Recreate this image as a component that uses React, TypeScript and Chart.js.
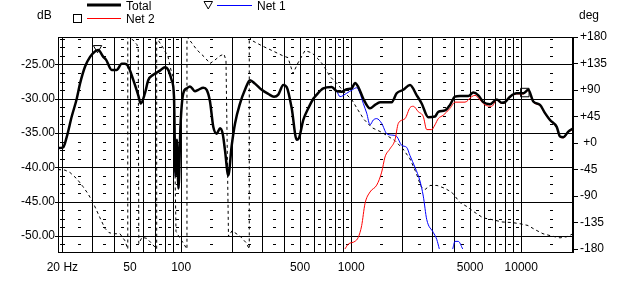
import React, { useEffect, useRef } from 'react';
import { Chart, registerables } from 'chart.js';

Chart.register(...registerables);

const FONT = "'Liberation Sans', Arial, Helvetica, sans-serif";

// ---------- data ----------
const totalFreq = [18.9, 20.2, 21.2, 22.7, 24.3, 25.4, 27.2, 29.1, 31.1, 32.5, 34.8, 36.1, 39.0, 41.7, 44.7, 46.7, 48.8, 52.3, 55.9, 57.8, 61.2, 64.0, 68.5, 75.0, 80.3, 83.9, 87.9, 90.7, 92.5, 94.4, 96.4, 99.0, 102.9, 107.7, 112.6, 120.5, 126.0, 134.9, 141.2, 147.7, 154.4, 161.7, 169.1, 175.4, 180.9, 189.2, 198.2, 207.3, 221.7, 237.2, 253.8, 271.6, 297.5, 325.2, 351.4, 372.4, 398.6, 417.4, 446.6, 477.9, 495.0, 522.6, 559.2, 598.4, 612.3, 685.0, 767.6, 821.4, 878.9, 940.5, 1006, 1052, 1101, 1178, 1290, 1380, 1477, 1730, 1851, 2025, 2217, 2428, 2597, 2841, 3110, 3252, 3562, 3811, 4078, 4364, 4884, 5226, 5591, 5984, 6552, 7175, 7677, 8027, 8589, 9403, 10285, 11006, 11777, 12896, 13800, 14767, 16169, 16909, 17681, 18920, 20246];
const totalDb = [-37.2, -37.1, -35.6, -32.6, -30.0, -27.8, -25.3, -23.9, -23.1, -22.9, -23.9, -24.3, -25.8, -25.8, -24.9, -24.9, -25.3, -27.3, -29.5, -30.7, -29.2, -27.3, -26.5, -25.9, -25.4, -25.8, -27.3, -29.7, -41.3, -36.0, -43.1, -34.0, -29.2, -28.5, -28.2, -28.9, -28.7, -28.4, -28.7, -30.4, -34.1, -35.1, -34.3, -35.1, -37.5, -41.2, -36.8, -33.6, -30.7, -28.7, -27.3, -27.8, -28.7, -29.3, -29.7, -29.4, -28.0, -28.3, -31.4, -36.0, -35.6, -33.1, -31.4, -30.0, -29.7, -28.5, -28.3, -28.9, -29.0, -28.6, -28.5, -27.7, -28.3, -30.0, -31.4, -30.9, -30.5, -30.5, -29.2, -28.7, -28.0, -29.5, -30.7, -32.7, -32.6, -31.9, -31.7, -30.9, -29.7, -29.6, -29.6, -29.1, -29.5, -30.5, -30.8, -30.1, -30.6, -30.5, -29.7, -29.2, -29.2, -28.7, -30.4, -30.9, -32.1, -33.1, -34.1, -35.5, -35.6, -34.8, -34.3];

// Net 1 coincides with Total below ~820 Hz (hidden under it), then:
const net1SharedCount = 68;
const net1Freq = [859, 940.5, 1015, 1077, 1126, 1178, 1233, 1290, 1349, 1412, 1511, 1617, 1730, 1851, 1981, 2120, 2217, 2372, 2538, 2654, 2780, 3040, 3183, 3297, 3600, 3954, 4078, 4264, 4526];
const net1Db = [-29.7, -29.2, -28.7, -28.4, -29.2, -30.7, -32.1, -33.8, -33.1, -32.9, -33.6, -35.1, -35.3, -35.5, -36.8, -37.1, -38.3, -40.0, -42.0, -44.2, -47.6, -49.5, -50.5, -51.9, null, -51.9, -50.8, -50.8, -51.9];

const net2Freq = [919, 961, 1052, 1101, 1152, 1205, 1290, 1412, 1511, 1580, 1691, 1809, 1892, 2072, 2217, 2318, 2480, 2654, 2780, 2975, 3110, 3252, 3481, 3811, 4078, 4670, 5114, 5348, 5722, 6123, 6705, 7175, 7677, 8027, 8589, 9403, 10285, 11006, 11777, 12896, 13800, 14767, 16169, 16909, 17681, 18920, 20246];
const net2Db = [-51.9, -51.2, -50.8, -50.2, -48.5, -45.3, -43.6, -42.6, -40.7, -38.5, -37.3, -36.0, -33.6, -32.9, -31.3, -31.1, -31.9, -32.6, -34.5, -34.5, -33.8, -32.9, -32.4, -31.4, -30.5, -30.5, -29.7, -29.5, -30.2, -30.9, -31.1, -30.2, -30.7, -30.6, -29.8, -29.3, -29.3, -28.8, -30.5, -31.0, -32.2, -33.2, -34.2, -35.6, -35.7, -34.9, -34.4];

// Total phase (wrapped, degrees)
const phaseFreq = [18.85, 20.72, 22.17, 24.38, 26.44, 28.29, 30.28, 33.29, 35.62, 37.59, 39.69, 43.63, 46.7, 48.5, 48.5, 52.04, 54.95, 55.91, 56.3, 58.79, 62.9, 67.31, 71.74, 71.74, 73.02, 78.13, 83.59, 87.05, 90.07, 93.19, 97.03, 102.4, 108.1, 108.1, 112.6, 123.8, 138.0, 147.7, 158.0, 169.1, 178.5, 183.4, 189.7, 198.9, 221.7, 240.5, 251.4, 251.4, 260.8, 298.7, 342.0, 396.9, 424.8, 454.5, 486.3, 534.7, 587.9, 637.6, 682.3, 750.1, 835.9, 919.1, 1011, 1096, 1189, 1325, 1517, 1809, 2016, 2217, 2405, 2573, 2717, 2907, 3196, 3562, 3916, 4364, 4798, 5348, 5960, 6731, 7708, 8826, 9835, 10961, 12051, 13431, 15172, 16909, 18590, 20162];
const phaseDeg = [-45, -46, -50, -61, -74, -86, -101, -127, -145, -152, -154, -154, -166, -180, 180, 175, 167, 158, -171, -160, -162, -171, -180, 180, 175, 162, 147, 124, 110, -150, -159, -169, -180, 180, 174, 158, 145, 135, 141, 148, 151, 140, -159, -149, -158, -169, -180, 180, 174, 165, 157, 148, 145, 118, 136, 157, 153, 143, 133, 113, 99, 85, 73, 56, 40, 26, 18, 4, -10, -27, -50, -74, -79, -72, -72, -77, -84, -101, -108, -118, -127, -130, -134, -135, -137, -140, -147, -154, -158, -161, -159, -154];

const markerNet1 = { freq: 32.2, db: -22.6 };
const markerNet2 = { freq: 10500, db: -29.1 };

// ---------- axes ----------
const xMin = 18.85;
const xMax = 20160;
const dbMin = -52.35;
const dbMax = -21.0;
const degMin = -185;
const degMax = 180;

const xTickValues = [20, 50, 100, 500, 1000, 5000, 10000];
const xTickLabels = ['20 Hz', '50', '100', '500', '1000', '5000', '10000'];
const dbTickValues = [-50, -45, -40, -35, -30, -25];
const dbTickLabels = ['-50.00', '-45.00', '-40.00', '-35.00', '-30.00', '-25.00'];
const degTickValues = [-180, -135, -90, -45, 0, 45, 90, 135, 180];
const degTickLabels = ['-180', '-135', '-90', '-45', ' +0', '+45', '+90', '+135', '+180'];

const decades = [10, 100, 1000, 10000];
const majorMultipliers = [2, 3, 4, 5, 6, 7, 8, 9];
const minorMultipliers = [1.5, 2.5, 3.5, 4.5, 5.5, 6.5, 7.5, 8.5, 9.5];
const dbMinorStep = 1.25;

const pts = (fs: number[], vs: (number | null)[]) => fs.map((f, i) => ({ x: f, y: vs[i] }));

const gridPlugin = {
  id: 'grid',
  beforeDatasetsDraw(chart: any) {
    const { ctx, chartArea: a, scales } = chart;
    const xs = scales.x;
    const ys = scales.y;
    const L = Math.round(a.left), R = Math.round(a.right), T = Math.round(a.top), B = Math.round(a.bottom);
    ctx.save();
    ctx.strokeStyle = '#000';
    ctx.fillStyle = '#000';
    ctx.lineWidth = 1;
    ctx.beginPath();
    // major horizontal lines
    dbTickValues.forEach((v) => {
      const py = Math.round(ys.getPixelForValue(v)) + 0.5;
      ctx.moveTo(L - 3, py);
      ctx.lineTo(R, py);
    });
    // major vertical lines
    const majors: number[] = [];
    decades.forEach((d) => majorMultipliers.forEach((m) => majors.push(d * m)));
    majors.push(100, 1000, 10000);
    majors.forEach((f) => {
      if (f < xMin || f > xMax) return;
      const px = Math.round(xs.getPixelForValue(f)) + 0.5;
      ctx.moveTo(px, T);
      ctx.lineTo(px, B);
    });
    ctx.stroke();
    // minor rows
    const rows: number[] = [];
    for (let k = Math.ceil(dbMin / dbMinorStep); k * dbMinorStep <= dbMax; k++) {
      const v = k * dbMinorStep;
      if (Math.abs(v / 5 - Math.round(v / 5)) > 1e-6) rows.push(v);
    }
    const minors: number[] = [];
    decades.forEach((d) => minorMultipliers.forEach((m) => minors.push(d * m)));
    minors.forEach((f) => {
      if (f < xMin || f > xMax) return;
      const px = Math.round(xs.getPixelForValue(f));
      rows.forEach((v) => {
        const py = Math.round(ys.getPixelForValue(v));
        if (py <= T || py >= B) return;
        ctx.fillRect(px - 1, py, 3, 1);
      });
    });
    // ticks along 20 Hz line
    const p20 = Math.round(xs.getPixelForValue(20));
    rows.forEach((v) => {
      const py = Math.round(ys.getPixelForValue(v));
      if (py <= T || py >= B) return;
      ctx.fillRect(p20 - 2, py, 5, 1);
    });
    // frame
    ctx.strokeRect(L + 0.5, T + 0.5, R - L, B - T);
    ctx.restore();
  },
};

const legendPlugin = {
  id: 'customLegend',
  afterDraw(chart: any) {
    const { ctx } = chart;
    ctx.save();
    ctx.font = `12px ${FONT}`;
    ctx.fillStyle = '#000';
    ctx.textBaseline = 'alphabetic';
    ctx.textAlign = 'left';
    // Total
    ctx.strokeStyle = '#000';
    ctx.lineWidth = 3;
    ctx.beginPath();
    ctx.moveTo(87, 5);
    ctx.lineTo(121, 5);
    ctx.stroke();
    ctx.fillText('Total', 126, 10);
    // Net 2
    ctx.lineWidth = 1;
    ctx.strokeRect(73.5, 14.5, 8, 8);
    ctx.strokeStyle = '#ff0000';
    ctx.beginPath();
    ctx.moveTo(87, 18.5);
    ctx.lineTo(121, 18.5);
    ctx.stroke();
    ctx.fillText('Net 2', 126, 23);
    // Net 1
    ctx.strokeStyle = '#000';
    ctx.beginPath();
    ctx.moveTo(204, 1.5);
    ctx.lineTo(212.5, 1.5);
    ctx.lineTo(208.25, 9);
    ctx.closePath();
    ctx.stroke();
    ctx.strokeStyle = '#0000ff';
    ctx.beginPath();
    ctx.moveTo(217, 5.5);
    ctx.lineTo(252, 5.5);
    ctx.stroke();
    ctx.fillText('Net 1', 257, 10);
    // axis units
    ctx.fillText('dB', 37, 18.5);
    ctx.fillText('deg', 579, 18.5);
    ctx.restore();
  },
};

export default function App() {
  const ref = useRef<HTMLCanvasElement | null>(null);
  useEffect(() => {
    if (!ref.current) return;
    const net1AllFreq = totalFreq.slice(0, net1SharedCount).concat(net1Freq);
    const net1AllDb = (totalDb.slice(0, net1SharedCount) as (number | null)[]).concat(net1Db);
    const tickFont = { family: FONT, size: 12 };
    const chart = new Chart(ref.current, {
      type: 'line',
      data: {
        datasets: [
          {
            label: 'Total',
            data: pts(totalFreq, totalDb),
            borderColor: '#000',
            borderWidth: 2.5,
            pointRadius: 0,
            cubicInterpolationMode: 'monotone',
            yAxisID: 'y',
            order: 0,
          },
          {
            label: 'Net 2',
            data: pts(net2Freq, net2Db),
            borderColor: '#ff0000',
            borderWidth: 1,
            pointRadius: 0,
            cubicInterpolationMode: 'monotone',
            yAxisID: 'y',
            order: 2,
          },
          {
            label: 'Net 1',
            data: pts(net1AllFreq, net1AllDb),
            borderColor: '#0000ff',
            borderWidth: 1,
            pointRadius: 0,
            cubicInterpolationMode: 'monotone',
            yAxisID: 'y',
            order: 3,
          },
          {
            label: 'Phase',
            data: pts(phaseFreq, phaseDeg),
            borderColor: '#000',
            borderWidth: 1,
            borderDash: [3, 3],
            pointRadius: 0,
            yAxisID: 'y2',
            order: 4,
          },
          {
            label: 'Net 1 marker',
            data: [{ x: markerNet1.freq, y: markerNet1.db }],
            showLine: false,
            pointStyle: 'triangle',
            rotation: 180,
            pointRadius: 4.8,
            borderColor: '#000',
            backgroundColor: 'rgba(0,0,0,0)',
            borderWidth: 1,
            yAxisID: 'y',
            order: -1,
          },
          {
            label: 'Net 2 marker',
            data: [{ x: markerNet2.freq, y: markerNet2.db }],
            showLine: false,
            pointStyle: 'rect',
            pointRadius: 6,
            borderColor: '#000',
            backgroundColor: 'rgba(0,0,0,0)',
            borderWidth: 1,
            yAxisID: 'y',
            order: -1,
          },
        ],
      } as any,
      options: {
        responsive: false,
        devicePixelRatio: 1,
        animation: false,
        events: [],
        layout: { padding: { top: 37, left: 0, right: 0, bottom: 0 } },
        plugins: { legend: { display: false }, tooltip: { enabled: false } },
        scales: {
          x: {
            type: 'logarithmic',
            min: xMin,
            max: xMax,
            afterBuildTicks: (s: any) => {
              s.ticks = xTickValues.map((v) => ({ value: v }));
            },
            afterFit: (s: any) => {
              s.height = 47;
            },
            ticks: {
              autoSkip: false,
              maxRotation: 0,
              minRotation: 0,
              padding: 8,
              color: '#000',
              font: tickFont,
              callback: (v: any) => xTickLabels[xTickValues.indexOf(Number(v))],
            },
            grid: { display: false, drawTicks: false },
            border: { display: false },
          },
          y: {
            type: 'linear',
            position: 'left',
            min: dbMin,
            max: dbMax,
            afterBuildTicks: (s: any) => {
              s.ticks = dbTickValues.map((v) => ({ value: v }));
            },
            afterFit: (s: any) => {
              s.width = 58;
            },
            ticks: {
              padding: 3,
              color: '#000',
              font: tickFont,
              callback: (v: any) => dbTickLabels[dbTickValues.indexOf(Number(v))],
            },
            grid: { display: false, drawTicks: false },
            border: { display: false },
          },
          y2: {
            type: 'linear',
            position: 'right',
            min: degMin,
            max: degMax,
            afterBuildTicks: (s: any) => {
              s.ticks = degTickValues.map((v) => ({ value: v }));
            },
            afterFit: (s: any) => {
              s.width = 57;
            },
            ticks: {
              padding: 2,
              color: '#000',
              font: tickFont,
              callback: (v: any) => degTickLabels[degTickValues.indexOf(Number(v))],
            },
            grid: {
              display: true,
              drawOnChartArea: false,
              drawTicks: true,
              tickLength: 5,
              color: '#000',
              lineWidth: 1,
            },
            border: { display: false },
          },
        },
      } as any,
      plugins: [gridPlugin, legendPlugin],
    });
    return () => chart.destroy();
  }, []);
  return (
    <div style={{ position: 'absolute', left: 0, top: 0, width: 630, height: 299, background: '#fff' }}>
      <canvas ref={ref} width={630} height={299} style={{ width: 630, height: 299, display: 'block' }} />
    </div>
  );
}
